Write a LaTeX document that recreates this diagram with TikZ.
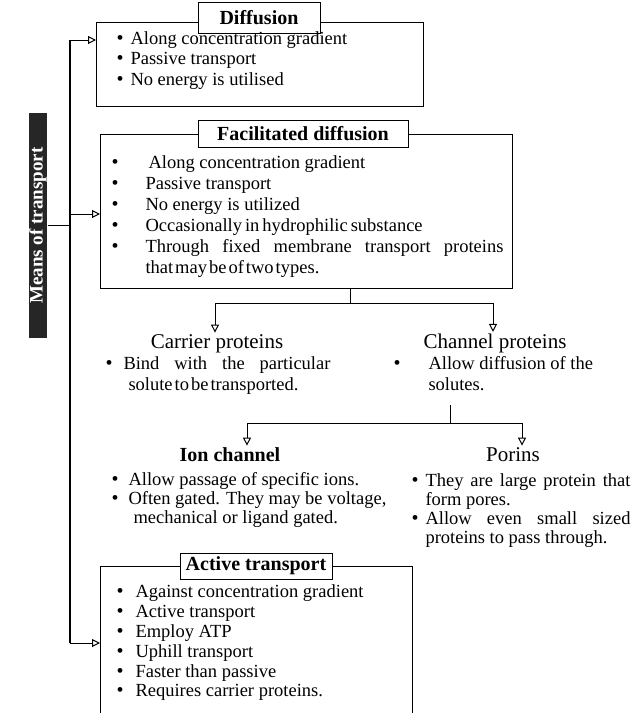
\documentclass[tikz,border=0pt]{standalone}
\usepackage{fontspec}
\setmainfont{Liberation Serif}
\usetikzlibrary{arrows.meta}

\newcommand{\bul}{{\fontsize{20}{15}\selectfont\textbullet}}

\begin{document}
\begin{tikzpicture}[x = 1pt, y = -1pt, line width = 1pt,
    box/.style = {draw, line width = 1pt, anchor = north west, inner sep = 0pt},
    boxtitle/.style = {draw, line width = 1pt, fill = white, inner sep = 0pt, font = \fontsize{20}{20}\selectfont\bfseries},
    items/.style = {anchor = north west, inner sep = 0pt, align = left},
    head/.style = {anchor = base, inner sep = 1pt, font = \fontsize{21}{21}\selectfont},
    tip/.style = {-{Triangle[open, length = 8pt, width = 8pt]}, line width = 1pt}]
    \useasboundingbox (0,0) rectangle (634,713);
    % Side label and trunk
    \node[fill = black!85, text = white, rotate = 90, minimum width = 225pt, minimum height = 18pt, inner sep = 0pt, font = \fontsize{19}{19}\selectfont\bfseries] (mot) at (38,225.5) {Means of transport};
    \coordinate (t1) at (70,40);
    \coordinate (t2) at (70,214);
    \coordinate (t3) at (70,643);
    % Diffusion
    \node[box, minimum width = 327pt, minimum height = 84pt] (diff) at (96,22) {};
    \node[boxtitle, minimum width = 122pt, minimum height = 31pt] (difft) at (259,17.5) {Diffusion};
    \node[items, font = \fontsize{18.5}{20.5}\selectfont] (diffl) at (116,29.5) {\begin{tabular}{@{}p{14pt}@{}l@{}}
      \bul & Along concentration gradient\\
      \bul & Passive transport\\
      \bul & No energy is utilised
    \end{tabular}};
    % Facilitated diffusion
    \node[box, minimum width = 412pt, minimum height = 154pt] (fac) at (100,134) {};
    \node[boxtitle, minimum width = 210pt, minimum height = 27pt] (fact) at (303,133.5) {Facilitated diffusion};
    \node[items, font = \fontsize{18.5}{21}\selectfont] (facl) at (111,153) {\begin{tabular}{@{}p{34pt}@{}l@{}}
      \bul & \hspace{3pt}Along concentration gradient\\
      \bul & Passive transport\\
      \bul & No energy is utilized\\
      \bul & {\spaceskip=3pt\relax Occasionally in hydrophilic substance}\\
      \bul & \makebox[358pt][s]{Through fixed membrane transport proteins}\\
           & {\spaceskip=2pt\relax that may be of two types.}
    \end{tabular}};
    \coordinate (fj) at (350,303);
    \coordinate (fl) at (215,303);
    \coordinate (fr) at (493,303);
    \node[head] (car) at (217,348) {Carrier proteins};
    \node[head] (cha) at (495,348) {Channel proteins};
    \node[items, font = \fontsize{18.5}{21}\selectfont] (carl) at (105,354) {\begin{tabular}{@{}p{18pt}@{}l@{}}
      \bul & \makebox[207pt][s]{Bind with the particular}\\
           & \hspace{5pt}{\spaceskip=2pt\relax solute to be transported.}
    \end{tabular}};
    \node[items, font = \fontsize{18.5}{21}\selectfont] (chal) at (393,354) {\begin{tabular}{@{}p{35pt}@{}l@{}}
      \bul & Allow diffusion of the\\
           & solutes.
    \end{tabular}};
    % Channel proteins split
    \coordinate (cs) at (450,405);
    \coordinate (bl) at (247,423);
    \coordinate (br) at (522,423);
    \node[head, font = \fontsize{20}{20}\selectfont\bfseries] (ion) at (230,461) {Ion channel};
    \node[head] (por) at (513,461) {Porins};
    \node[items, font = \fontsize{18.5}{19}\selectfont] (ionl) at (111,472) {\begin{tabular}{@{}p{17pt}@{}l@{}}
      \bul & Allow passage of specific ions.\\
      \bul & Often gated. They may be voltage,\\
           & \hspace{5pt}mechanical or ligand gated.
    \end{tabular}};
    \node[items, font = \fontsize{18.5}{19.3}\selectfont] (porl) at (411,472) {\begin{tabular}{@{}p{14pt}@{}l@{}}
      \bul & \makebox[205pt][s]{They are large protein that}\\
           & form pores.\\
      \bul & \makebox[205pt][s]{Allow even small sized}\\
           & proteins to pass through.
    \end{tabular}};
    % Active transport
    \node[box, minimum width = 312pt, minimum height = 160pt] (act) at (100,566) {};
    \node[boxtitle, minimum width = 152pt, minimum height = 26pt] (actt) at (256,566) {Active transport};
    \node[items, font = \fontsize{18.5}{19.8}\selectfont] (actl) at (116,583.5) {\begin{tabular}{@{}p{19pt}@{}l@{}}
      \bul & Against concentration gradient\\
      \bul & Active transport\\
      \bul & Employ ATP\\
      \bul & Uphill transport\\
      \bul & Faster than passive\\
      \bul & Requires carrier proteins.
    \end{tabular}};
    % Connectors
    \draw[line width = 1.3pt] (t1) -- (t3);
    \draw[line width = 1.3pt] (mot.south) -- (mot.south -| t1);
    \draw[tip] (t1) -- (t1 -| diff.west);
    \draw[tip] (t2) -- (t2 -| fac.west);
    \draw[tip] (t3) -- (t3 -| act.west);
    \draw (fac.south -| fj) -- (fj);
    \draw (fl) -- (fr);
    \draw[tip] (fl) -- (fl |- car.north);
    \draw[tip] (fr) -- (fr |- cha.north);
    \draw[line width = .6pt] (cs) -- (cs |- bl);
    \draw (bl) -- (br);
    \draw[tip] (bl) -- (bl |- ion.north);
    \draw[tip] (br) -- (br |- por.north);
\end{tikzpicture}
\end{document}
